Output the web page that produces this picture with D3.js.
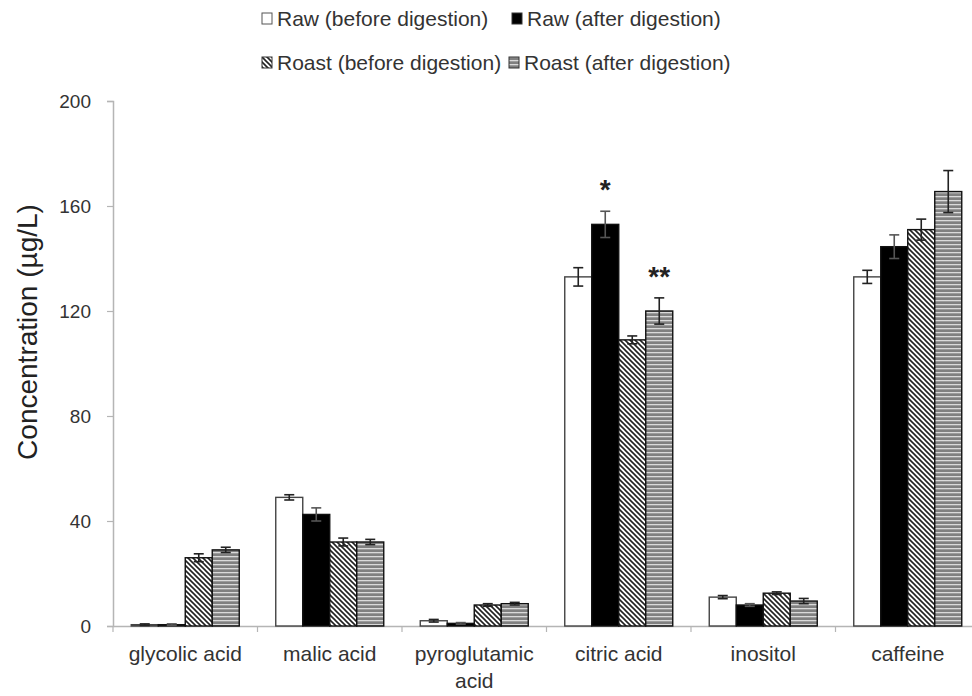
<!DOCTYPE html>
<html><head><meta charset="utf-8">
<script src="https://cdn.jsdelivr.net/npm/d3@7"></script>
<style>
html,body{margin:0;padding:0;background:#fff;}
svg{display:block;font-family:"Liberation Sans",Arial,Helvetica,sans-serif;}
</style></head>
<body>
<svg id="chart" width="972" height="696"></svg>
<script>
const categories = ["glycolic acid","malic acid","pyroglutamic acid","citric acid","inositol","caffeine"];
const seriesNames = ["Raw (before digestion)","Raw (after digestion)","Roast (before digestion)","Roast (after digestion)"];
const rawBefore      = [0.5, 49, 2, 133, 11, 133];
const rawAfter       = [0.5, 42.5, 1, 153, 8, 144.5];
const roastBefore    = [26, 32, 8, 109, 12.5, 151];
const roastAfter     = [29, 32, 8.5, 120, 9.5, 165.5];
const rawBeforeErr   = [0.3, 1, 0.5, 3.5, 0.6, 2.5];
const rawAfterErr    = [0.3, 2.5, 0.3, 5, 0.5, 4.5];
const roastBeforeErr = [1.5, 1.5, 0.5, 1.5, 0.5, 4];
const roastAfterErr  = [1, 1, 0.5, 5, 1, 8];
const yTicks = [0, 40, 80, 120, 160, 200];
const annotations = [{cat:"citric acid", series:1, text:"*"}, {cat:"citric acid", series:3, text:"**"}];

const values = [rawBefore, rawAfter, roastBefore, roastAfter];
const errs = [rawBeforeErr, rawAfterErr, roastBeforeErr, roastAfterErr];

const svg = d3.select("#chart");
const defs = svg.append("defs");
// diagonal hatch
const pDiag = defs.append("pattern").attr("id","diag").attr("patternUnits","userSpaceOnUse")
  .attr("width",5).attr("height",5);
pDiag.append("rect").attr("width",5).attr("height",5).attr("fill","#fff");
pDiag.append("path").attr("d","M-1,-1 L6,6 M-1,4 L1,6 M4,-1 L6,1").attr("stroke","#222").attr("stroke-width",1.6);
// horizontal stripes
const pHor = defs.append("pattern").attr("id","hor").attr("patternUnits","userSpaceOnUse")
  .attr("width",6).attr("height",4);
pHor.append("rect").attr("width",6).attr("height",4).attr("fill","#808080");
pHor.append("rect").attr("y",0).attr("width",6).attr("height",1.3).attr("fill","#dadada");

const fills = ["#fff","#000","url(#diag)","url(#hor)"];

const x0 = d3.scaleBand().domain(categories).range([113, 980]).paddingInner(0).paddingOuter(0);
const x1 = d3.scaleBand().domain(d3.range(4)).range([0, x0.bandwidth()]).paddingInner(0).paddingOuter(0.676);
const y = d3.scaleLinear().domain([0, 200]).range([626, 101]);

const axisColor = "#b5b5b5";
// y axis
const yAxis = svg.append("g").attr("transform","translate(113,0)")
  .call(d3.axisLeft(y).tickValues(yTicks).tickSize(6).tickPadding(16));
yAxis.select(".domain").attr("stroke",axisColor).attr("stroke-width",1.5);
yAxis.selectAll(".tick line").attr("stroke",axisColor).attr("stroke-width",1.2);
yAxis.selectAll(".tick text").attr("fill","#333").attr("font-size",19).attr("font-family","Liberation Sans, Arial");

// x axis
const xAxis = svg.append("g").attr("transform","translate(0,626)")
  .call(d3.axisBottom(x0).tickSize(0).tickFormat(""));
xAxis.select(".domain").attr("stroke",axisColor).attr("stroke-width",1.5);
xAxis.selectAll(".tick").remove();
// boundary ticks
const bounds = categories.map(c => x0(c));
svg.append("g").selectAll("line").data(bounds).join("line")
  .attr("x1",d=>d).attr("x2",d=>d).attr("y1",626).attr("y2",632)
  .attr("stroke",axisColor).attr("stroke-width",1.2);

// category labels (wrapped)
const labG = svg.append("g").attr("fill","#333").attr("font-size",21).attr("text-anchor","middle");
categories.forEach(c => {
  const cx = x0(c) + x0.bandwidth()/2;
  const t = labG.append("text").attr("x",cx).attr("y",661);
  const words = c.split(" ");
  let line = [];
  let ts = t.append("tspan").attr("x",cx).attr("dy",0);
  words.forEach(w => {
    line.push(w);
    ts.text(line.join(" "));
    if (ts.node().getComputedTextLength() > 140 && line.length > 1) {
      line.pop(); ts.text(line.join(" "));
      line = [w];
      ts = t.append("tspan").attr("x",cx).attr("dy",27).text(w);
    }
  });
});

// bars
const barG = svg.append("g");
categories.forEach((c, ci) => {
  values.forEach((vals, si) => {
    const bx = x0(c) + x1(si);
    const bw = x1.bandwidth();
    const v = vals[ci];
    barG.append("rect").attr("x",bx).attr("y",y(v)).attr("width",bw).attr("height",y(0)-y(v))
      .attr("fill",fills[si]).attr("stroke",si===0?"#444":"#111").attr("stroke-width",1.4);
  });
});
// error bars
const errG = svg.append("g").attr("stroke","#222").attr("stroke-width",1.6);
categories.forEach((c, ci) => {
  values.forEach((vals, si) => {
    const cx = x0(c) + x1(si) + x1.bandwidth()/2;
    const v = vals[ci], e = errs[si][ci];
    const col = si===1 ? "#555" : "#222";
    errG.append("line").attr("x1",cx).attr("x2",cx).attr("y1",y(v-e)).attr("y2",y(v+e)).attr("stroke",col);
    [v-e, v+e].forEach(yy => errG.append("line").attr("x1",cx-5).attr("x2",cx+5).attr("y1",y(yy)).attr("y2",y(yy)).attr("stroke",col));
  });
});
// annotations
annotations.forEach(a => {
  const ci = categories.indexOf(a.cat);
  const cx = x0(a.cat) + x1(a.series) + x1.bandwidth()/2;
  const top = values[a.series][ci] + errs[a.series][ci];
  svg.append("text").attr("x",cx).attr("y",y(top)-12).attr("text-anchor","middle")
    .attr("font-size",28).attr("font-weight","bold").attr("fill","#222").text(a.text);
});

// legend
const legPos = [[262,18],[512,18],[262,62],[509,62]];
const legG = svg.append("g").attr("font-size",21).attr("fill","#333");
seriesNames.forEach((n, i) => {
  const [lx, ly] = legPos[i];
  legG.append("rect").attr("x",lx).attr("y",ly-5).attr("width",10).attr("height",11)
    .attr("fill",fills[i]).attr("stroke",i===0?"#555":"#333").attr("stroke-width",1);
  legG.append("text").attr("x",lx+15).attr("y",ly+8).text(n);
});

// y title
svg.append("text").attr("transform","translate(37,332) rotate(-90)").attr("text-anchor","middle")
  .attr("font-size",28).attr("fill","#222").text("Concentration (µg/L)");
</script>
</body></html>
